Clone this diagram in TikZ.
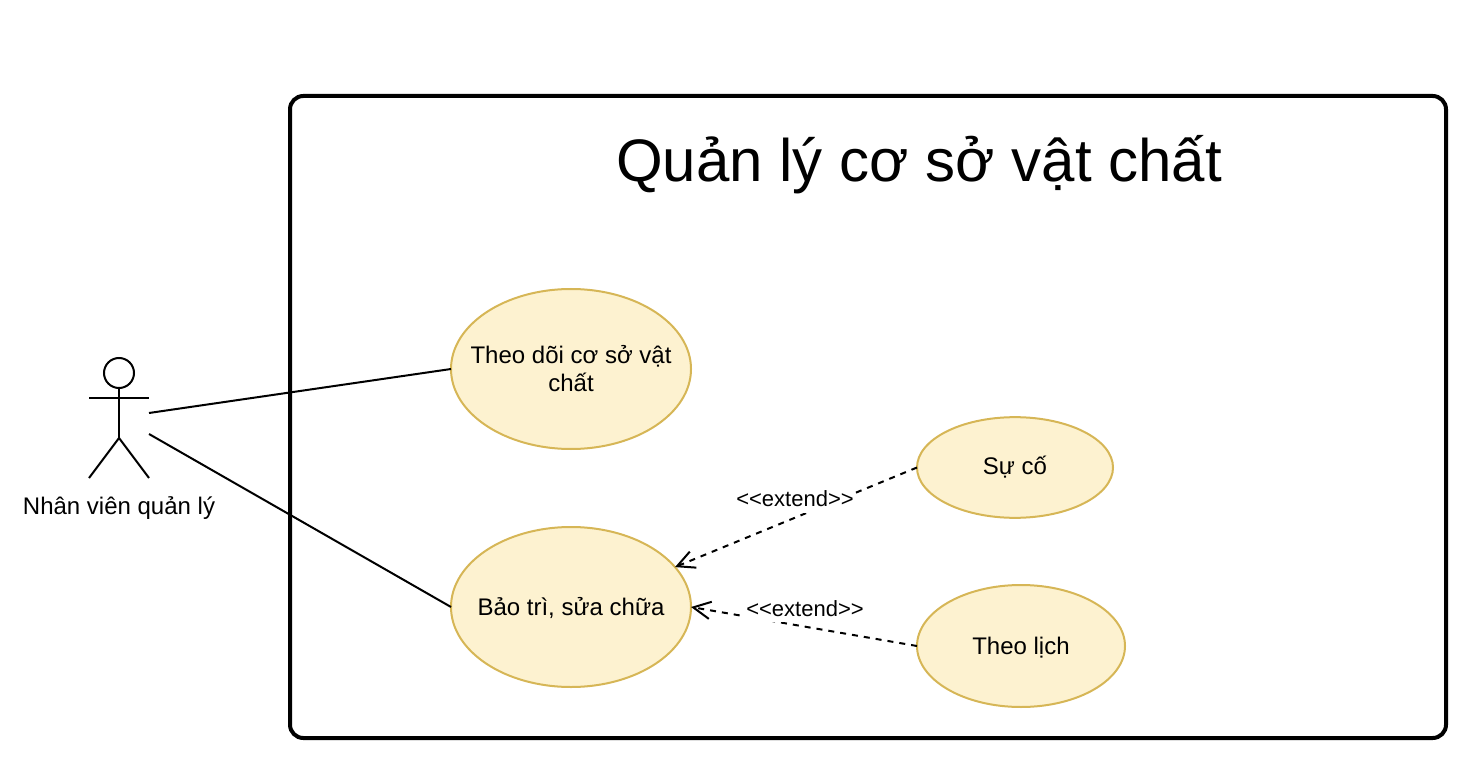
\documentclass[tikz,border=0pt]{standalone}
\usepackage{fontspec}
\setmainfont{Liberation Sans}
\usetikzlibrary{arrows.meta,shapes.geometric}
\definecolor{usefill}{HTML}{FDF2D0}
\definecolor{useline}{HTML}{D6B656}
\newcommand{\usetext}[1]{\makebox[0pt]{#1}}
\tikzset{
	usecase/.style={ellipse,draw=useline,fill=usefill,line width=1.5pt,inner sep=0pt,outer sep=0pt,align=center,font=\fontsize{18}{21}\selectfont},
	oneline/.style={text height=16pt,text depth=4pt},
	extendline/.style={line width=1.5pt,dash pattern=on 4.5pt off 4.5pt,-{Straight Barb[length=13pt,width=13pt,line width=1.5pt]}},
	extendlabel/.style={fill=white,inner sep=0pt,minimum width=90pt,text height=12.5pt,text depth=4.3pt,font=\fontsize{16.5}{18}\selectfont},
	assoc/.style={line width=1.5pt}
}
\begin{document}
\begin{tikzpicture}[x=0.75pt,y=-0.75pt]
	\useasboundingbox (0,0) rectangle (1480,780);
	% Draw the system box
	\node[draw,line width=3pt,rounded corners=10pt,minimum width=867pt,minimum height=481.5pt,inner sep=0pt,outer sep=0pt] (system) at (868,417) {};
	\node[anchor=base,font=\fontsize{45}{52}\selectfont,inner sep=0pt] (title) at (919,182) {Quản lý cơ sở vật chất};
	% Draw the actor
	\node[draw,circle,line width=1.5pt,minimum size=22.5pt,inner sep=0pt,outer sep=0pt] (head) at (119,373) {};
	\coordinate (armL) at (89,397.5);
	\coordinate (armR) at (149,397.5);
	\coordinate (hip) at (119,438);
	\coordinate (footL) at (89,478);
	\coordinate (footR) at (149,478);
	\draw[assoc] (head.south) -- (hip);
	\draw[assoc] (armL) -- (armR);
	\draw[assoc] (footL) -- (hip) -- (footR);
	\node[anchor=base,font=\fontsize{18}{21}\selectfont,inner sep=0pt] (actor) at (119,514) {Nhân viên quản lý};
	% Use cases
	\node[usecase,minimum width=180pt,minimum height=120pt] (watch) at (571,369) {\usetext{Theo dõi cơ sở vật}\\\usetext{chất}};
	\node[usecase,oneline,minimum width=180pt,minimum height=120pt] (repair) at (571,607) {\usetext{Bảo trì, sửa chữa}};
	\node[usecase,text height=14.5pt,text depth=4pt,minimum width=147pt,minimum height=75.5pt] (incident) at (1015,467.5) {Sự cố};
	\node[usecase,oneline,minimum width=156pt,minimum height=91.5pt] (schedule) at (1021,646) {Theo lịch};
	% Associations
	\coordinate (actorA) at (149,413);
	\coordinate (actorB) at (149,434);
	\draw[assoc] (actorA) -- (watch.west);
	\draw[assoc] (actorB) -- (repair.west);
	% Extend lines, then the labels on top
	\draw[extendline] (incident.west) -- (repair.21.5);
	\draw[extendline] (schedule.west) -- (repair.east);
	\node[extendlabel] (labelA) at (795,501.5) {<{}<extend>{}>};
	\node[extendlabel] (labelB) at (805,611) {<{}<extend>{}>};
\end{tikzpicture}
\end{document}
